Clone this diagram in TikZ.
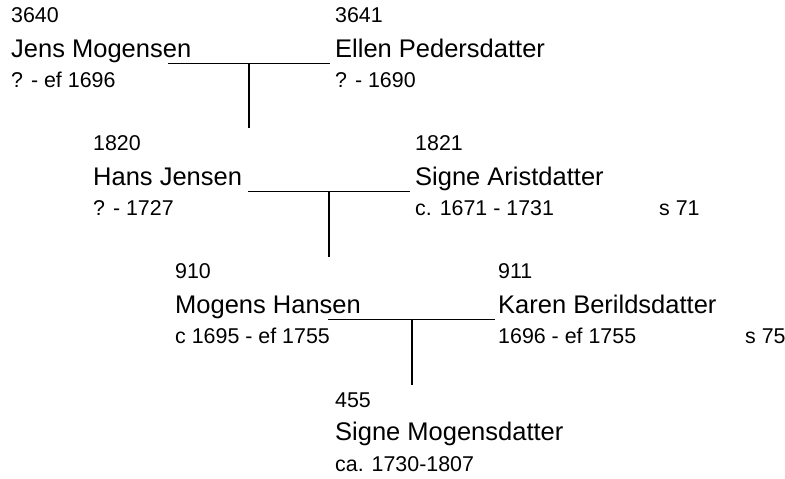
\documentclass[tikz,border=0pt]{standalone}
\usepackage{fontspec}
\setmainfont{Liberation Sans}
\usepackage{tikz}

\tikzset{
	small/.style={anchor=base west, inner sep=0pt, font=\fontsize{21.4}{25}\selectfont},
	big/.style={anchor=base west, inner sep=0pt, font=\fontsize{25.5}{30}\selectfont},
	link/.style={line width=1.6pt},
}

\begin{document}
\begin{tikzpicture}[x=1pt, y=-1pt]
	\useasboundingbox (0,0) rectangle (785,479);
	% generation 1
	\node[small] (n3640) at (11, 22.7) {3640};
	\node[big] (p3640) at (11, 57) {Jens Mogensen};
	\node[small] (d3640) at (11, 87) {? - ef 1696};
	\node[small] (n3641) at (335, 22.7) {3641};
	\node[big] (p3641) at (335, 57) {Ellen Pedersdatter};
	\node[small] (d3641) at (335, 87) {? - 1690};
	% generation 2
	\node[small] (n1820) at (93, 150.7) {1820};
	\node[big] (p1820) at (93, 185) {Hans Jensen};
	\node[small] (d1820) at (93, 215) {? - 1727};
	\node[small] (n1821) at (415, 150.7) {1821};
	\node[big] (p1821) at (415, 185) {Signe Aristdatter};
	\node[small] (d1821) at (415, 215) {c. 1671 - 1731};
	\node[small] (s1821) at (659, 215) {s 71};
	% generation 3
	\node[small] (n910) at (175, 278.7) {910};
	\node[big] (p910) at (175, 313) {Mogens Hansen};
	\node[small] (d910) at (175, 343) {c 1695 - ef 1755};
	\node[small] (n911) at (498, 278.7) {911};
	\node[big] (p911) at (498, 313) {Karen Berildsdatter};
	\node[small] (d911) at (498, 343) {1696 - ef 1755};
	\node[small] (s911) at (745, 343) {s 75};
	% generation 4
	\node[small] (n455) at (335, 407) {455};
	\node[big] (p455) at (335, 440) {Signe Mogensdatter};
	\node[small] (d455) at (335, 471) {ca. 1730-1807};

	% couples and children
	\coordinate (a1) at (168, 63.3);
	\coordinate (b1) at (330, 63.3);
	\coordinate (m1) at (249, 63.3);
	\coordinate (c1) at (249, 128);
	\coordinate (a2) at (248, 191.3);
	\coordinate (b2) at (410, 191.3);
	\coordinate (m2) at (329, 191.3);
	\coordinate (c2) at (329, 257);
	\coordinate (a3) at (328, 319.3);
	\coordinate (b3) at (495, 319.3);
	\coordinate (m3) at (412, 319.3);
	\coordinate (c3) at (412, 385);
	\draw[link] (a1) -- (b1);
	\draw[link] (m1) -- (c1);
	\draw[link] (a2) -- (b2);
	\draw[link] (m2) -- (c2);
	\draw[link] (a3) -- (b3);
	\draw[link] (m3) -- (c3);
\end{tikzpicture}
\end{document}
